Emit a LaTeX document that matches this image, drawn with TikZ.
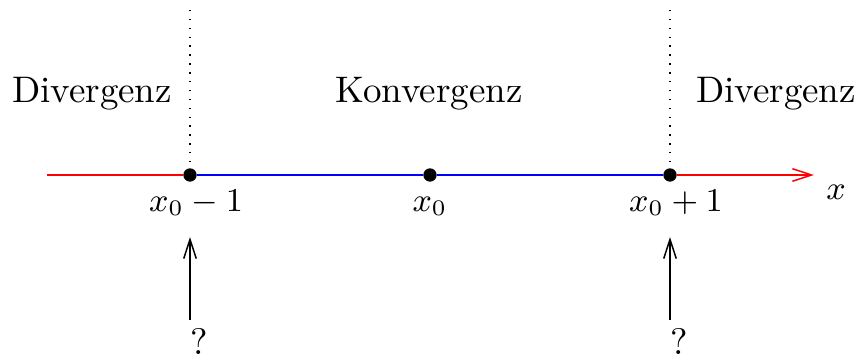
\documentclass[tikz,border=0pt]{standalone}
\usetikzlibrary{arrows.meta}
\begin{document}
\begin{tikzpicture}[x=0.2704pt,y=-0.2704pt,
  pt/.style={circle,fill=black,inner sep=0pt,minimum size=3.6pt},
  lbl/.style={inner sep=0pt,anchor=base},
  mlbl/.style={lbl,font=\small},
  tip/.style={-{Straight Barb[length=5.2pt,width=3.4pt]}}]
\useasboundingbox (0,0) rectangle (858,360);
\node[pt] (p1) at (190,175) {};
\node[pt] (p0) at (430,175) {};
\node[pt] (p2) at (670,175) {};
\coordinate (l) at (47,175);
\coordinate (r) at (814,175);
\coordinate (t1) at (190,10);
\coordinate (t2) at (670,10);
\draw[red] (l) -- (p1);
\draw[blue] (p1) -- (p0);
\draw[blue] (p0) -- (p2);
\draw[red,tip] (p2) -- (r);
\draw[dotted] (t1) -- (p1);
\draw[dotted] (t2) -- (p2);
\node[lbl] (dl) at (92,103) {Divergenz};
\node[lbl] (k) at (429,103) {Konvergenz};
\node[lbl] (dr) at (776,103) {Divergenz};
\node[mlbl] (xl) at (836,200) {$x$};
\node[mlbl] (a1) at (196,212) {$x_0-1$};
\node[mlbl] (a0) at (430,212) {$x_0$};
\node[mlbl] (a2) at (676,212) {$x_0+1$};
\node[lbl] (q1) at (199,355) {?};
\node[lbl] (q2) at (679,355) {?};
\coordinate (b1) at (190,320);
\coordinate (e1) at (190,237);
\coordinate (b2) at (670,320);
\coordinate (e2) at (670,237);
\draw[tip] (b1) -- (e1);
\draw[tip] (b2) -- (e2);
\end{tikzpicture}
\end{document}
